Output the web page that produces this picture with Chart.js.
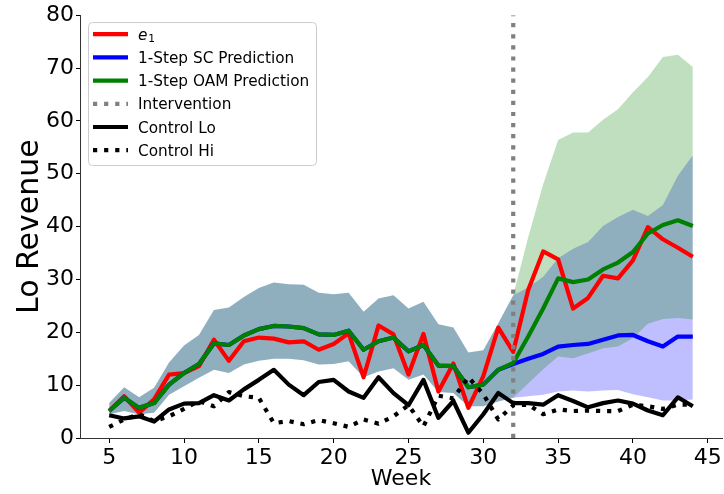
<!DOCTYPE html>
<html><head><meta charset="utf-8">
<script src="https://cdn.jsdelivr.net/npm/chart.js@4/dist/chart.umd.min.js"></script>
<style>html,body{margin:0;padding:0;background:#fff;}canvas{display:block;}</style>
</head><body>
<canvas id="c" width="724" height="494" style="width:724px;height:494px;"></canvas>
<script>
const weeks = [5,6,7,8,9,10,11,12,13,14,15,16,17,18,19,20,21,22,23,24,25,26,27,28,29,30,31,32,33,34,35,36,37,38,39,40,41,42,43,44];
const e1 = [5.1,7.9,4.8,7.3,12.0,12.3,13.6,18.6,14.6,18.3, 19.0,18.8,18.1,18.3,16.7,17.8,19.8,11.5,21.3,19.6, 12.0,19.7,8.8,14.1,5.7,11.7,20.9,16.3,28.0,35.3, 33.8,24.5,26.5,30.7,30.2,33.6,39.9,37.6,36.0,34.3];
const scPred = [5.1,7.6,5.7,6.6,10.1,12.3,14.0,17.9,17.6,19.4, 20.6,21.2,21.1,20.8,19.6,19.5,20.3,16.7,18.3,19.0, 16.4,17.6,13.7,13.6,9.6,10.1,12.9,14.0,15.0,15.9, 17.3,17.6,17.8,18.6,19.4,19.5,18.3,17.3,19.2,19.2];
const oamPred = [5.1,7.6,5.7,6.6,10.1,12.3,14.0,17.9,17.6,19.4, 20.6,21.2,21.1,20.8,19.6,19.5,20.3,16.7,18.3,19.0, 16.4,17.6,13.7,13.6,9.6,10.1,12.9,14.2,19.2,24.5, 30.2,29.5,30.0,31.9,33.2,35.2,38.7,40.3,41.2,40.1];
const scLower = [4.5,5.1,4.5,4.8,8.2,9.8,11.4,12.9,12.3,13.9, 14.6,15.0,15.0,14.7,13.9,14.0,14.5,11.5,12.6,13.2, 11.0,12.0,8.7,8.5,6.0,6.0,6.9,7.6,7.9,8.2, 8.8,9.0,8.8,9.0,9.1,8.3,7.7,7.1,7.1,7.3];
const scUpper = [6.6,9.6,7.7,9.5,14.3,17.5,19.5,24.2,24.7,26.7, 28.4,29.4,29.1,29.0,27.5,27.2,27.5,23.9,26.4,27.0, 24.5,25.8,21.5,20.9,16.2,16.6,21.7,27.0,28.5,30.5, 34.0,35.8,37.1,40.1,41.8,43.2,42.0,44.1,49.6,53.5];
const oamLower = [4.5,5.1,4.5,4.8,8.2,9.8,11.4,12.9,12.3,13.9, 14.6,15.0,15.0,14.7,13.9,14.0,14.5,11.5,12.6,13.2, 11.0,12.0,8.7,8.5,6.0,6.0,6.9,7.6,10.3,13.0, 15.4,15.1,16.0,17.0,17.3,18.9,21.6,22.5,22.7,22.4];
const oamUpper = [6.6,9.6,7.7,9.5,14.3,17.5,19.5,24.2,24.7,26.7, 28.4,29.4,29.1,29.0,27.5,27.2,27.5,23.9,26.4,27.0, 24.5,25.8,21.5,20.9,16.2,16.6,21.7,27.0,38.0,48.0, 56.4,57.8,57.8,60.2,62.2,65.4,68.3,72.1,72.5,70.2];
const controlLo = [4.3,3.7,4.1,3.1,5.4,6.5,6.6,8.1,7.1,9.2, 11.0,12.9,10.1,8.1,10.6,11.0,8.8,7.6,11.5,8.5, 6.2,11.0,3.8,7.0,1.0,4.5,8.5,6.6,6.6,6.3, 8.1,7.0,5.8,6.6,7.1,6.5,5.2,4.3,7.7,6.0];
const controlHi = [2.1,3.5,4.5,3.2,4.1,5.5,7.0,6.0,8.7,7.9, 7.6,2.8,3.2,2.6,3.4,2.8,2.1,3.5,2.7,4.1, 6.2,2.2,8.0,7.5,11.5,8.3,3.5,6.2,6.3,4.5, 5.4,5.1,5.2,5.1,5.1,6.3,6.0,5.5,6.3,6.3];
const interventionWeek = 32;
const xTicks = [5,10,15,20,25,30,35,40,45];
const yTicks = [0,10,20,30,40,50,60,70,80];
const xMin = 3.05, xMax = 45.95, yMin = 0, yMax = 80;

const FONT = "'DejaVu Sans'";
const DOT = [4.2, 6.9];
const pts = arr => weeks.map((w, i) => ({x: w, y: arr[i]}));
const lineBase = {pointRadius: 0, borderWidth: 4.2, tension: 0, fill: false, borderJoinStyle: 'round', borderCapStyle: 'butt'};
const bandBase = {pointRadius: 0, borderWidth: 1, borderColor: 'rgba(0,0,0,0)', tension: 0};

const datasets = [
  {...lineBase, label: 'e₁', data: pts(e1), borderColor: '#ff0000', order: 5, inLegend: true, mathLabel: true},
  {...lineBase, label: '1-Step SC Prediction', data: pts(scPred), borderColor: '#0000ff', order: 4, inLegend: true},
  {...lineBase, label: '1-Step OAM Prediction', data: pts(oamPred), borderColor: '#008000', order: 3, inLegend: true},
  {...lineBase, label: 'Intervention', data: [{x: interventionWeek, y: yMin}, {x: interventionWeek, y: yMax}], borderColor: '#808080', borderDash: DOT, order: 2, inLegend: true},
  {...lineBase, label: 'Control Lo', data: pts(controlLo), borderColor: '#000000', order: 1, inLegend: true},
  {...lineBase, label: 'Control Hi', data: pts(controlHi), borderColor: '#000000', borderDash: DOT, order: 0, inLegend: true},
  {...bandBase, label: 'SC lower', data: pts(scLower), fill: false, order: 13},
  {...bandBase, label: 'SC upper', data: pts(scUpper), fill: 6, backgroundColor: 'rgba(0,0,255,0.25)', order: 13},
  {...bandBase, label: 'OAM lower', data: pts(oamLower), fill: false, order: 12},
  {...bandBase, label: 'OAM upper', data: pts(oamUpper), fill: 8, backgroundColor: 'rgba(0,128,0,0.25)', order: 12}
];

const boxLegend = {
  id: 'boxLegend',
  afterDraw(chart) {
    const ctx = chart.ctx;
    ctx.save();
    const bx = 88, by = 22, bw = 228, bh = 143;
    ctx.beginPath();
    ctx.roundRect(bx + 0.5, by + 0.5, bw, bh, 4);
    ctx.fillStyle = 'rgba(255,255,255,0.8)';
    ctx.fill();
    ctx.strokeStyle = '#cccccc';
    ctx.lineWidth = 1;
    ctx.stroke();
    const items = chart.data.datasets.filter(d => d.inLegend);
    items.forEach((d, i) => {
      const y = 34.2 + i * 23.2;
      ctx.beginPath();
      ctx.moveTo(93, y); ctx.lineTo(128, y);
      ctx.strokeStyle = d.borderColor;
      ctx.lineWidth = 4.2;
      ctx.lineCap = 'butt';
      ctx.setLineDash(d.borderDash || []);
      ctx.stroke();
      ctx.setLineDash([]);
      ctx.fillStyle = '#000';
      ctx.textBaseline = 'alphabetic';
      ctx.textAlign = 'left';
      const base = y + 5.6;
      if (d.mathLabel) {
        ctx.font = "italic 15.3px " + FONT;
        ctx.fillText('e', 138, base);
        const w = ctx.measureText('e').width;
        ctx.font = "10.7px " + FONT;
        ctx.fillText('1', 138 + w + 0.8, base + 2.2);
      } else {
        ctx.font = "15.3px " + FONT;
        ctx.fillText(d.label, 138, base);
      }
    });
    ctx.restore();
  }
};

new Chart(document.getElementById('c'), {
  type: 'line',
  data: {datasets},
  options: {
    responsive: false,
    animation: false,
    devicePixelRatio: 1,
    events: [],
    layout: {padding: {top: 14, right: 2, left: 0, bottom: 0}},
    plugins: {legend: {display: false}, tooltip: {enabled: false}, filler: {propagate: false}},
    scales: {
      x: {
        type: 'linear', min: xMin, max: xMax,
        afterBuildTicks: ax => { ax.ticks = xTicks.map(v => ({value: v})); },
        afterFit: ax => { ax.height = 56; },
        grid: {display: true, drawOnChartArea: false, drawTicks: true, tickLength: 5, color: '#000', lineWidth: 1},
        border: {display: true, color: '#333', width: 1},
        ticks: {font: {family: FONT, size: 22}, color: '#000', padding: 2, maxRotation: 0, autoSkip: false},
        title: {display: true, text: 'Week', font: {family: FONT, size: 22}, color: '#000', padding: {top: 0, bottom: 2}}
      },
      y: {
        type: 'linear', min: yMin, max: yMax,
        afterBuildTicks: ax => { ax.ticks = yTicks.map(v => ({value: v})); },
        afterFit: ax => { ax.width = 80; },
        grid: {display: true, drawOnChartArea: false, drawTicks: true, tickLength: 4, color: '#000', lineWidth: 1},
        border: {display: true, color: '#333', width: 1},
        ticks: {font: {family: FONT, size: 22}, color: '#000', padding: 2, autoSkip: false},
        title: {display: true, text: 'Lo Revenue', font: {family: FONT, size: 30}, color: '#000', padding: {top: 12, bottom: 0}}
      }
    }
  },
  plugins: [boxLegend]
});
</script>
</body></html>
